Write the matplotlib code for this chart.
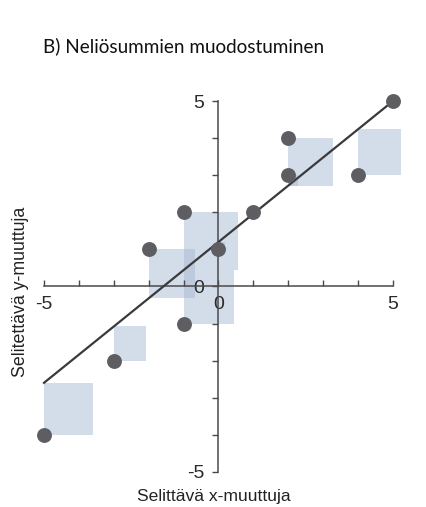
import matplotlib
matplotlib.use("Agg")
import matplotlib.pyplot as plt
from matplotlib.patches import Rectangle
import numpy as np

# data points (x, y)
x_vals = np.array([-5, -3, -2, -1, -1, 0, 1, 2, 2, 4, 5])
y_vals = np.array([-4, -2, 1, 2, -1, 1, 2, 3, 4, 3, 5])

# fitted line
line_intercept = 1.2
line_slope = 0.76
line_x = np.array([-5, 5])

x_ticks = np.arange(-5, 6)
y_ticks = np.arange(-5, 6)
x_ticklabels = ["-5", "", "", "", "", "0", "", "", "", "", "5"]
y_ticklabels = ["-5", "", "", "", "", "0", "", "", "", "", "5"]

title = "B) Neliösummien muodostuminen"
xlabel = "Selittävä x-muuttuja"
ylabel = "Selitettävä y-muuttuja"

plt.rcParams["font.family"] = ["Liberation Sans", "DejaVu Sans"]

fig = plt.figure(figsize=(4.27, 5.07), dpi=100)
ax = fig.add_axes([0.0622, 0.0329, 0.899, 0.8043])

# squared residuals drawn as squares next to each point
pred = line_intercept + line_slope * x_vals
resid = y_vals - pred
for xx, yy, r, p in zip(x_vals, y_vals, resid, pred):
    side = abs(r)
    ax.add_patch(Rectangle((xx, min(yy, p)), side, side, facecolor="#a9bad4",
                           edgecolor="none", alpha=0.5, zorder=1))

ax.plot(line_x, line_intercept + line_slope * line_x, color="#3a3a3a", lw=1.6, zorder=3)
ax.scatter(x_vals, y_vals, s=115, color="#5e5e62", zorder=4, linewidths=0)

ax.set_xlim(-5.5, 5.5)
ax.set_ylim(-5.5, 5.5)
for side in ["top", "right"]:
    ax.spines[side].set_visible(False)
ax.spines["left"].set_position(("data", 0))
ax.spines["bottom"].set_position(("data", 0))
ax.spines["left"].set_bounds(-5, 5)
ax.spines["bottom"].set_bounds(-5, 5)
for side in ["left", "bottom"]:
    ax.spines[side].set_color("#4a4a4a")
    ax.spines[side].set_linewidth(1.1)

ax.set_xticks(x_ticks, x_ticklabels)
ax.set_yticks(y_ticks, y_ticklabels)
ax.tick_params(axis="x", direction="in", length=4, width=1, color="#4a4a4a",
               labelsize=14, pad=7, labelcolor="#2a2a2a")
ax.tick_params(axis="y", direction="out", length=4, width=1, color="#4a4a4a",
               labelsize=14, pad=6, labelcolor="#2a2a2a")
for lbl in ax.get_xticklabels() + ax.get_yticklabels():
    lbl.set_zorder(5)
ax.patch.set_visible(False)

fig.text(0.5, 0.021, xlabel, ha="center", va="center", fontsize=12.6, color="#222222")
fig.text(0.047, 0.425, ylabel, ha="center", va="center", rotation=90, fontsize=12.8, color="#222222")
fig.text(0.1, 0.908, title, ha="left", va="center", fontsize=13.6, color="#111111",
         family=["Lato", "DejaVu Sans"])

fig.savefig("out.png", dpi=100)
